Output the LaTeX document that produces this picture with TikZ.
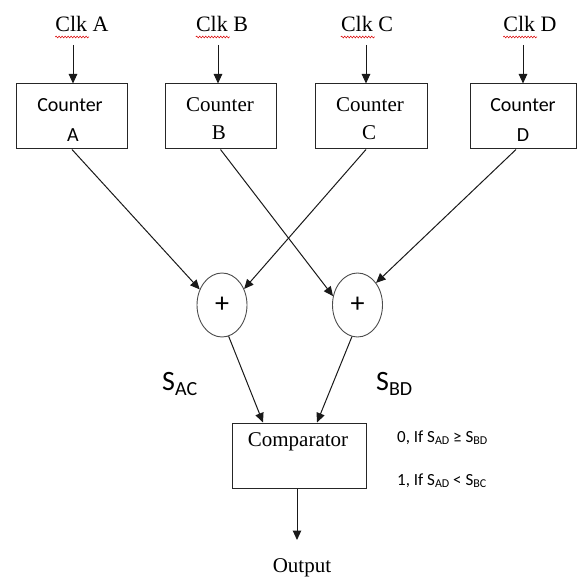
\documentclass[tikz,border=0pt]{standalone}
\usepackage{fontspec}
\setmainfont{Liberation Serif}
\newfontfamily\calib{Carlito}
\usetikzlibrary{arrows.meta,decorations.pathmorphing,shapes.geometric,calc}

\begin{document}
\begin{tikzpicture}[x=1pt,y=-1pt,
  cbox/.style={draw=black!85, line width=1pt, minimum height=65pt, inner sep=0pt},
  sumnode/.style={ellipse, draw=black!70, line width=0.9pt, minimum width=50pt,
                  minimum height=64pt, inner sep=0pt, font=\calib\fontsize{28}{28}\selectfont},
  arr/.style={-{Triangle[length=9.5pt,width=8.5pt]}, line width=1pt, black!90},
  serif/.style={inner sep=0pt, font=\fontsize{21}{25}\selectfont},
  sans/.style={inner sep=0pt, font=\calib\fontsize{20}{24}\selectfont},
  clk/.style={inner sep=0pt, anchor=base, font=\fontsize{22}{26}\selectfont},
  rule/.style={inner sep=0pt, anchor=base west, font=\calib\fontsize{17}{20}\selectfont},
  spell/.style={draw=red!85!black, line width=0.5pt, decorate,
                decoration={snake, amplitude=0.9pt, segment length=3pt}}
]
\useasboundingbox (0,0) rectangle (578,577);
\newcommand\lowsub[1]{\raisebox{-2.5pt}{\fontsize{12}{12}\selectfont #1}}

% clock labels
\node[clk] (ClkA) at (82,32) {Clk A};
\node[clk] (ClkB) at (222,32) {Clk B};
\node[clk] (ClkC) at (367,32) {Clk C};
\node[clk] (ClkD) at (530,32) {Clk D};
\foreach \c in {ClkA,ClkB,ClkC,ClkD}
  \draw[spell] ([yshift=-5pt]\c.base west) -- ++(34,0);

% counters
\node[cbox, minimum width=111pt] (A) at (71.5,116.5) {};
\node[cbox, minimum width=111pt] (B) at (220.5,116.5) {};
\node[cbox, minimum width=112pt] (C) at (371,116.5) {};
\node[cbox, minimum width=106pt] (D) at (523,116.5) {};

\node[sans]  (A1) at (70,105) {Counter};
\node[sans]  (A2) at (73,135) {A};
\node[serif] (B1) at (220,105) {Counter};
\node[serif] (B2) at (219,133) {B};
\node[serif] (C1) at (370,105) {Counter};
\node[serif] (C2) at (369,133) {C};
\node[sans]  (D1) at (523,105) {Counter};
\node[sans]  (D2) at (523,135) {D};

% clock inputs
\draw[arr] ([xshift=1.5pt]A.north |- 0,45) -- ([xshift=1.5pt]A.north);
\draw[arr] ([xshift=-2.5pt]B.north |- 0,45) -- ([xshift=-2.5pt]B.north);
\draw[arr] ([xshift=-5pt]C.north |- 0,45) -- ([xshift=-5pt]C.north);
\draw[arr] (D.north |- 0,45) -- (D.north);

% adders
\node[sumnode] (P1) at (222,305) {+};
\node[sumnode] (P2) at (357.5,305) {+};

\draw[arr] ([xshift=0.5pt]A.south) -- (P1.145);
\draw[arr] ([xshift=-5pt]C.south) -- (P1.36);
\draw[arr] (B.south) -- (P2.160);
\draw[arr] ([xshift=-7pt]D.south) -- (P2.50);

% sum labels
\node[inner sep=0pt, anchor=base west, font=\calib] (SAC) at (162,390)
  {\fontsize{28}{28}\selectfont S\raisebox{-5pt}{\fontsize{20}{20}\selectfont AC}};
\node[inner sep=0pt, anchor=base west, font=\calib] (SBD) at (376,390)
  {\fontsize{28}{28}\selectfont S\raisebox{-5pt}{\fontsize{20}{20}\selectfont BD}};

% comparator
\node[cbox, minimum width=134pt] (Cmp) at (299,455.5) {};
\node[serif] (CmpT) at (298,442) {Comparator};

\draw[arr] (P1.-78) -- ([xshift=-36pt]Cmp.north);
\draw[arr] (P2.-100) -- ([xshift=18pt]Cmp.north);

% decision rule
\node[rule] (R0) at (397,442) {0, If S\lowsub{AD} ≥ S\lowsub{BD}};
\node[rule] (R1) at (397,485) {1, If S\lowsub{AD} < S\lowsub{BC}};

% output
\node[clk, font=\fontsize{21}{25}\selectfont] (Out) at (302,572) {Output};
\draw[arr] ([xshift=-2pt]Cmp.south) -- ([xshift=-2pt]Cmp.south |- 0,540);
\end{tikzpicture}
\end{document}
